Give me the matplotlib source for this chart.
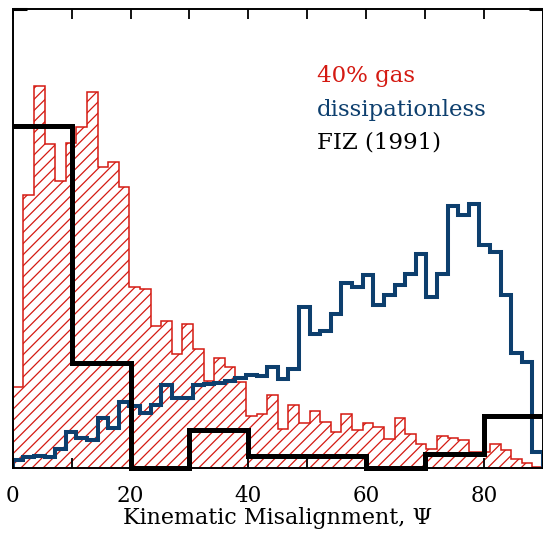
import numpy as np
import matplotlib
matplotlib.use('Agg')
import matplotlib.pyplot as plt

# bin edges (degrees)
bins = np.linspace(0, 90, 51)
fiz_bins = np.arange(0, 91, 10)

# 40% gas run (arbitrary units)
gas = [81, 273, 382, 324, 287, 325, 341, 376, 301, 306,
       281, 181, 179, 142, 147, 114, 144, 119, 87, 110,
       101, 86, 52, 54, 73, 39, 63, 45, 57, 46,
       36, 54, 38, 45, 41, 29, 50, 34, 24, 19,
       32, 30.5, 28.5, 16, 16, 24, 18, 9.5, 4.7, 1.3]

# dissipationless run
dissless = [8, 11, 12, 11, 19.5, 36, 30.5, 28.5, 50, 40,
            66, 62, 55, 63, 83, 70, 70, 83, 84, 85,
            87, 90, 93, 92, 101, 89, 99, 161, 134, 137,
            154, 185, 181, 193, 163, 173, 183, 194, 214, 171,
            194, 262, 253, 264, 223, 216, 173, 115, 106, 16]

# FIZ (1991)
fiz = [342, 105, 0, 38, 12, 12, 0, 14, 52]

xticks = [0, 10, 20, 30, 40, 50, 60, 70, 80, 90]
xticklabels = ['0', '', '20', '', '40', '', '60', '', '80', '']

red = '#d41a12'
blue = '#0d3f6e'

plt.rcParams['font.family'] = 'DejaVu Serif'
plt.rcParams['hatch.linewidth'] = 0.9

fig = plt.figure(figsize=(5.43, 5.33), dpi=100)
ax = fig.add_axes([12.7/543, 65/533, 1 - 12.7/543, 459/533])

ax.stairs(gas, bins, fill=True, facecolor='none', edgecolor=red,
          hatch='///', lw=1.1, zorder=1)
ax.stairs(dissless, bins, color=blue, lw=2.9, zorder=2)
ax.stairs(fiz, fiz_bins, baseline=None, color='k', lw=3.6,
          zorder=3, clip_on=False)

ax.set_xlim(0, 90)
ax.set_ylim(0, 459)

ax.set_xticks(xticks)
ax.set_xticklabels(xticklabels, fontsize=15.5)
ax.tick_params(axis='x', direction='in', top=True, length=7, width=1.3, pad=12)
ax.set_yticks([459])
ax.set_yticklabels([])
ax.tick_params(axis='y', direction='in', right=True, length=10, width=2.2)
for s in ax.spines.values():
    s.set_linewidth(1.4)

ax.set_xlabel('Kinematic Misalignment, Ψ', fontsize=16, labelpad=0)

ax.text(51.6, 386, '40% gas', color=red, fontsize=16.5, va='baseline')
ax.text(51.6, 352, 'dissipationless', color=blue, fontsize=16.5, va='baseline')
ax.text(51.6, 320, 'FIZ (1991)', color='k', fontsize=16.5, va='baseline')

fig.savefig('out.png', dpi=100)
